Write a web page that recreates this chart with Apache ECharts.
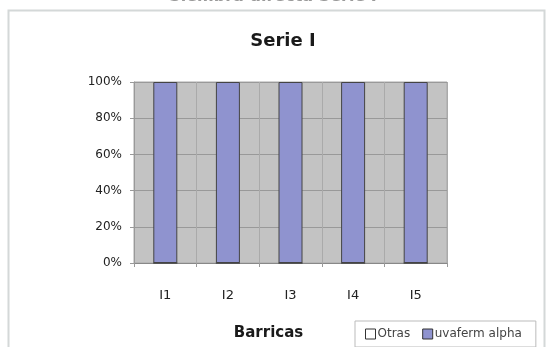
<!DOCTYPE html>
<html><head><meta charset="utf-8">
<script src="https://cdn.jsdelivr.net/npm/echarts@6/dist/echarts.min.js"></script>
<style>html,body{margin:0;padding:0;background:#fff}#c{width:546px;height:347px}</style>
</head><body><div id="c"></div>
<script>
const categories = ['I1','I2','I3','I4','I5'];
const otras = [0,0,0,0,0];
const uvaferm = [100,100,100,100,100];

const chart = echarts.init(document.getElementById('c'));
chart.setOption({
  animation:false,
  graphic:[
    {type:'rect',shape:{x:8.5,y:10.5,width:536,height:345},style:{fill:'#fff',stroke:'#d4d8d8',lineWidth:2},z:-10},
    {type:'text',left:'center',top:-11,style:{text:'Siembra directa Serie I',font:'bold 16px "DejaVu Sans"',fill:'#9a9a9a'}}
  ],
  title:{text:'Serie I',left:278,top:27,textAlign:'center',textStyle:{fontFamily:'DejaVu Sans',fontWeight:'bold',fontSize:18,color:'#1a1a1a'}},
  legend:{left:355,top:321,orient:'horizontal',icon:'rect',itemWidth:10,itemHeight:10,itemGap:12,padding:[7,14,7,10],
    borderColor:'#bbb',borderWidth:1,backgroundColor:'#fff',
    textStyle:{fontFamily:'DejaVu Sans',fontSize:12,color:'#444',padding:[0,0,0,-3]},
    data:[{name:'Otras',itemStyle:{color:'#fff',borderColor:'#333',borderWidth:1}},{name:'uvaferm alpha',itemStyle:{color:'#8f93cf',borderColor:'#333',borderWidth:1}}]},
  grid:{left:134,top:82,width:313,height:181,show:true,backgroundColor:'#c3c3c3',borderColor:'#a8a8a8',borderWidth:1},
  xAxis:{type:'category',data:categories,name:'Barricas',nameLocation:'middle',nameGap:63,
    nameTextStyle:{fontFamily:'DejaVu Sans',fontWeight:'bold',fontSize:15,color:'#1a1a1a',padding:[0,44,0,0]},
    axisLine:{lineStyle:{color:'#888'}},axisTick:{show:true,length:4,lineStyle:{color:'#999'}},
    axisLabel:{fontFamily:'DejaVu Sans',fontSize:13,color:'#222',margin:26},
    splitLine:{show:true,lineStyle:{color:'#aaa',width:1}}},
  yAxis:{type:'value',min:0,max:100,interval:20,
    axisLine:{show:true,lineStyle:{color:'#999'}},axisTick:{show:true,length:4,lineStyle:{color:'#999'}},
    axisLabel:{fontFamily:'DejaVu Sans',fontSize:12,color:'#222',margin:12,formatter:v=>v+'%'},
    splitLine:{show:true,lineStyle:{color:'#999',width:1}}},
  series:[
    {name:'Otras',type:'bar',stack:'s',data:otras,barWidth:24,itemStyle:{color:'#fff',borderColor:'#444',borderWidth:1}},
    {name:'uvaferm alpha',type:'bar',stack:'s',data:uvaferm,barWidth:24,itemStyle:{color:'#8f93cf',borderColor:'#444',borderWidth:1}}
  ]
});
</script></body></html>
